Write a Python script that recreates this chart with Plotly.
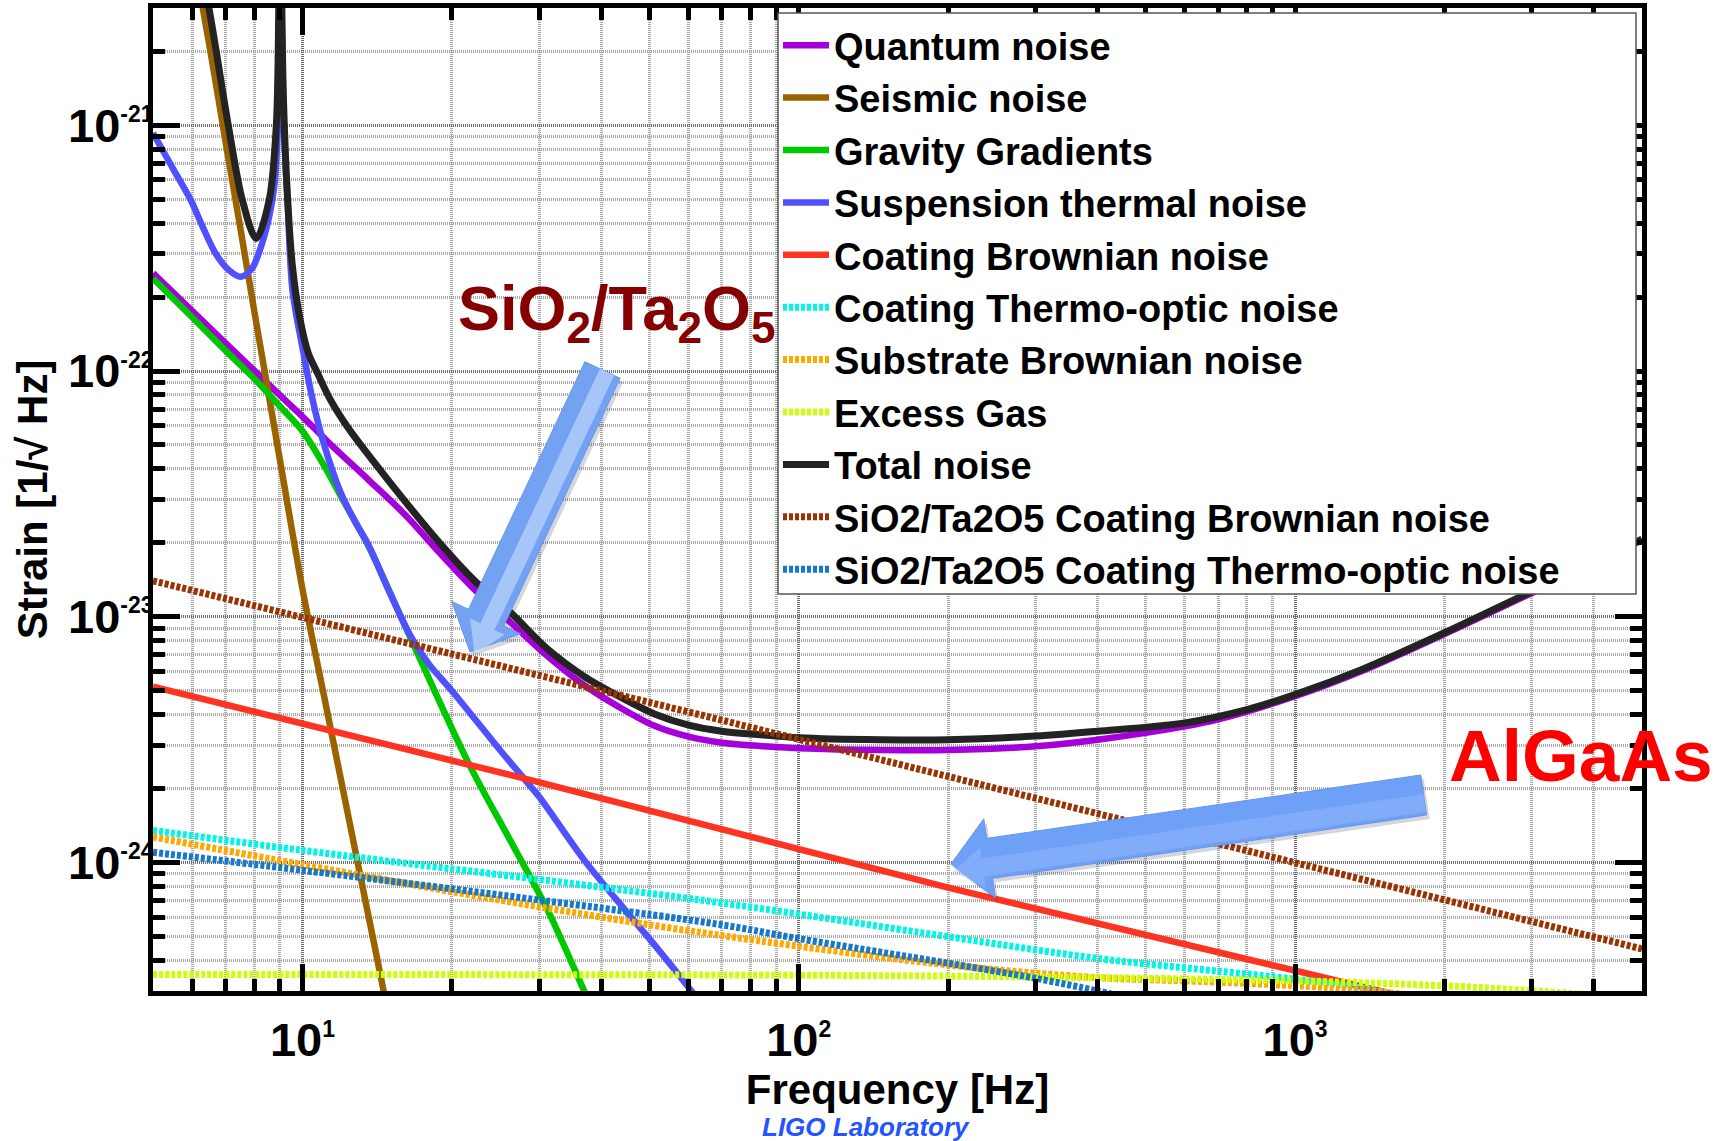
import plotly.graph_objects as go

FONT = "Liberation Sans"

# ---------------------------------------------------------------------------
# Noise budget: frequency [Hz] and strain amplitude spectral density [1/sqrt(Hz)]
# ---------------------------------------------------------------------------
quantum_f = [5, 7, 8.61, 9.79, 11.55, 13.6, 16.1, 19.0, 22.4, 26.4, 31.2, 36.8,
             43.4, 51.2, 60, 70, 85, 100, 146, 200, 300, 400, 600, 700, 1000,
             1360, 2000, 3000, 5000]
quantum_h = [2.5e-22, 1.30e-22, 8.7e-23, 6.8e-23, 4.9e-23, 3.6e-23, 2.6e-23,
             1.8e-23, 1.27e-23, 9.4e-24, 6.9e-24, 5.3e-24, 4.3e-24, 3.6e-24,
             3.25e-24, 3.07e-24, 2.97e-24, 2.92e-24, 2.87e-24, 2.87e-24,
             2.97e-24, 3.16e-24, 3.58e-24, 3.82e-24, 4.75e-24, 6.0e-24, 8.5e-24,
             1.25e-23, 2.05e-23]

seismic_f = [6.0, 6.5, 7.0, 7.5, 8.0, 8.5, 9.0, 10.0, 11.0, 12.0, 13.0, 14.0, 15.0]
seismic_h = [5.2e-21, 2.1e-21, 8.6e-22, 3.8e-22, 1.75e-22, 8.6e-23, 4.4e-23,
             1.3e-23, 5.0e-24, 2.1e-24, 9.4e-25, 4.5e-25, 2.25e-25]

gravity_f = [5, 6, 7, 8, 9, 10, 11, 12, 13.6, 16.6, 21.65, 26.4, 31.2, 36.8, 40]
gravity_h = [2.38e-22, 1.65e-22, 1.21e-22, 9.3e-23, 7.2e-23, 5.7e-23, 4.2e-23,
             3.05e-23, 1.93e-23, 8.0e-24, 2.52e-24, 1.2e-24, 6.4e-25, 3.06e-25,
             2.1e-25]

suspension_f = [5, 5.25, 5.5, 5.96, 6.3, 6.69, 7.1, 7.51, 7.9, 8.16, 8.57, 8.79,
                8.92, 8.98, 9.02, 9.08, 9.18, 9.34, 9.55, 10.03, 10.46, 11.0,
                11.94, 12.75, 13.6, 15.0, 16.6, 18.0, 20, 25, 28.2, 30, 37, 45, 50,
                60, 65]
suspension_h = [9.3e-22, 7.8e-22, 6.6e-22, 4.95e-22, 3.85e-22, 3.0e-22, 2.58e-22,
                2.42e-22, 2.6e-22, 3.0e-22, 4.24e-22, 5.79e-22, 1.0e-21, 3.0e-21,
                3.0e-20, 3.0e-21, 9.5e-22, 4.8e-22, 2.13e-22, 1.21e-22, 7.8e-23,
                5.2e-23, 3.2e-23, 2.45e-23, 1.95e-23, 1.25e-23, 8.2e-24, 6.4e-24,
                5.0e-24, 2.87e-24, 2.15e-24, 1.85e-24, 1.02e-24, 6.3e-25, 4.9e-25,
                3.1e-25, 2.5e-25]

coating_brownian_f = [5, 28.2, 200, 1430, 2000]
coating_brownian_h = [5.19e-24, 2.19e-24, 7.9e-25, 3.05e-25, 2.6e-25]

coating_to_f = [5, 10, 63, 200, 400, 1000, 1400, 2000]
coating_to_h = [1.35e-24, 1.12e-24, 7.05e-25, 4.99e-25, 4.07e-25, 3.35e-25,
                3.05e-25, 2.6e-25]

substrate_f = [5, 10, 26.4, 63, 200, 400, 600, 1155, 2000]
substrate_h = [1.27e-24, 9.8e-25, 6.9e-25, 5.2e-25, 3.83e-25, 3.4e-25, 3.3e-25,
               3.1e-25, 2.8e-25]

gas_f = [5, 100, 300, 1000, 2000, 2690, 5000]
gas_h = [3.5e-25, 3.48e-25, 3.42e-25, 3.3e-25, 3.15e-25, 3.05e-25, 2.8e-25]

total_f = [6.2, 6.47, 7.09, 7.57, 8.07, 8.57, 8.86, 8.96, 9.02, 9.09, 9.16, 9.34,
           9.55, 9.87, 10.28, 10.7, 11.36, 12.34, 14.8, 18.97, 22.4, 26.4, 31.2,
           36.8, 43.4, 51.2, 60, 70, 85, 100, 146, 200, 300, 400, 600, 800, 1000,
           1360, 2000, 3000, 5000]
total_h = [4.5e-21, 3.05e-21, 1.0e-21, 4.95e-22, 3.46e-22, 4.95e-22, 1.0e-21,
           3.0e-21, 3.0e-20, 3.0e-21, 1.26e-21, 4.95e-22, 2.65e-22, 1.66e-22,
           1.18e-22, 9.9e-23, 7.7e-23, 5.9e-23, 3.65e-23, 1.98e-23, 1.38e-23,
           1.03e-23, 7.38e-24, 5.75e-24, 4.75e-24, 4.02e-24, 3.62e-24, 3.42e-24,
           3.3e-24, 3.22e-24, 3.16e-24, 3.16e-24, 3.27e-24, 3.42e-24, 3.70e-24,
           4.19e-24, 4.82e-24, 6.09e-24, 8.61e-24, 1.27e-23, 2.07e-23]

sio2_brownian_f = [5, 63, 5000]
sio2_brownian_h = [1.4e-23, 4.0e-24, 4.45e-25]

sio2_to_f = [5, 10, 67.6, 100, 200, 300, 400, 500]
sio2_to_h = [1.1e-24, 9.3e-25, 5.64e-25, 4.9e-25, 3.89e-25, 3.38e-25, 3.0e-25,
             2.7e-25]

# Axis ticks (exponent drawn as a small superscript)
EXP = '<sup><span style="font-size:23px">{}</span></sup>'
x_tick_vals = [10, 100, 1000]
x_tick_text = ["10" + EXP.format(e) for e in ("1", "2", "3")]
y_tick_vals = [1e-24, 1e-23, 1e-22, 1e-21]
y_tick_text = ["10" + EXP.format(e) for e in ("-24", "-23", "-22", "-21")]
x_minor_vals = [m * d for d in (1, 10, 100, 1000) for m in range(2, 10)
                if 5 < m * d < 5000 and m * d not in (10, 100, 1000)]
y_minor_vals = [m * 10.0 ** e for e in (-25, -24, -23, -22, -21)
                for m in range(2, 10) if 3e-25 < m * 10.0 ** e < 3e-21]

DOT = "4px,2px"
# (legend name, f, h, colour, dash, width, spline)
series = [
    ("Quantum noise", quantum_f, quantum_h, "#A600DA", "solid", 6.5, True),
    ("Seismic noise", seismic_f, seismic_h, "#9A6300", "solid", 6.5, True),
    ("Gravity Gradients", gravity_f, gravity_h, "#00C800", "solid", 6.5, True),
    ("Suspension thermal noise", suspension_f, suspension_h, "#5050FF", "solid", 6.5, True),
    ("Coating Brownian noise", coating_brownian_f, coating_brownian_h, "#FF3322", "solid", 6.5, False),
    ("Coating Thermo-optic noise", coating_to_f, coating_to_h, "#00F5E6", DOT, 7, True),
    ("Substrate Brownian noise", substrate_f, substrate_h, "#FFA800", DOT, 7, True),
    ("Excess Gas", gas_f, gas_h, "#CCFF00", DOT, 7, True),
    ("Total noise", total_f, total_h, "#232323", "solid", 7, True),
    ("SiO2/Ta2O5 Coating Brownian noise", sio2_brownian_f, sio2_brownian_h, "#993300", DOT, 7, False),
    ("SiO2/Ta2O5 Coating Thermo-optic noise", sio2_to_f, sio2_to_h, "#1478CC", DOT, 7, True),
]

fig = go.Figure()
for name, f, h, color, dash, width, smooth in series:
    fig.add_trace(go.Scatter(
        x=f, y=h, mode="lines", name=name,
        line=dict(color=color, width=width, dash=dash,
                  shape="spline" if smooth else "linear", smoothing=0.9),
    ))

# ---------------------------------------------------------------------------
# Page geometry (pixels) used to place the legend frame and call-out arrows
# ---------------------------------------------------------------------------
W, H = 1731, 1141
PLOT_L, PLOT_T, PLOT_W, PLOT_H = 153, 8, 1489, 983


def to_paper(x, y):
    return (x - PLOT_L) / PLOT_W, 1 - (y - PLOT_T) / PLOT_H


def arrow_path(tail, tip, shaft_hw, head_hw, head_len, dx=0.0, dy=0.0, side=0.0):
    tx, ty = tail[0] + dx, tail[1] + dy
    px, py = tip[0] + dx, tip[1] + dy
    length = ((px - tx) ** 2 + (py - ty) ** 2) ** 0.5
    ux, uy = (px - tx) / length, (py - ty) / length
    nx, ny = -uy, ux
    tx, ty = tx + nx * side, ty + ny * side
    px, py = px + nx * side, py + ny * side
    hx, hy = px - ux * head_len, py - uy * head_len
    pts = [
        (tx + nx * shaft_hw, ty + ny * shaft_hw),
        (hx + nx * shaft_hw, hy + ny * shaft_hw),
        (hx + nx * head_hw, hy + ny * head_hw),
        (px, py),
        (hx - nx * head_hw, hy - ny * head_hw),
        (hx - nx * shaft_hw, hy - ny * shaft_hw),
        (tx - nx * shaft_hw, ty - ny * shaft_hw),
    ]
    pp = [to_paper(x, y) for x, y in pts]
    return "M " + " L ".join(f"{x:.5f},{y:.5f}" for x, y in pp) + " Z"


shapes = []

# legend frame
lx0, ly0 = to_paper(778, 13)
lx1, ly1 = to_paper(1636, 594)
shapes.append(dict(type="rect", xref="paper", yref="paper", layer="above",
                   x0=lx0, x1=lx1, y0=ly1, y1=ly0, fillcolor="white",
                   line=dict(color="#555555", width=1.5)))

arrows = [
    # tail centre, tip, shaft half-width, head half-width, head length, highlight
    dict(tail=(602.5, 370), tip=(470, 652), shaft=19.5, head=38, hl=38, shine=True),
    dict(tail=(1423.7, 795), tip=(951, 864), shaft=20.2, head=40, hl=39, shine=False),
]
for a in arrows:
    shapes.append(dict(type="path", xref="paper", yref="paper", layer="above",
                       path=arrow_path(a["tail"], a["tip"], a["shaft"], a["head"], a["hl"], 3, 4),
                       fillcolor="rgba(40,50,90,0.20)", line=dict(width=0)))
    shapes.append(dict(type="path", xref="paper", yref="paper", layer="above",
                       path=arrow_path(a["tail"], a["tip"], a["shaft"], a["head"], a["hl"]),
                       fillcolor="#74A2F3" if a["shine"] else "#6FA0F7",
                       line=dict(color="#6A95E4", width=1)))
    if a["shine"]:
        shapes.append(dict(type="path", xref="paper", yref="paper", layer="above",
                           path=arrow_path(a["tail"], a["tip"], a["shaft"] * 0.4,
                                           a["head"] * 0.5, a["hl"] * 0.8, side=-5),
                           fillcolor="rgba(200,222,255,0.6)", line=dict(width=0)))
    else:
        shapes.append(dict(type="path", xref="paper", yref="paper", layer="above",
                           path=arrow_path(a["tail"], a["tip"], a["shaft"] * 0.45,
                                           a["head"] * 0.5, a["hl"] * 0.8, side=-8),
                           fillcolor="rgba(160,195,255,0.35)", line=dict(width=0)))

annotations = [
    dict(text="SiO<sub>2</sub>/Ta<sub>2</sub>O<sub>5</sub>", xref="paper", yref="paper",
         x=to_paper(456, 0)[0], y=to_paper(0, 312)[1], xanchor="left", yanchor="middle",
         showarrow=False, font=dict(family=FONT, size=63, color="#850000", weight="bold")),
    dict(text="AlGaAs", xref="paper", yref="paper",
         x=to_paper(1447, 0)[0], y=to_paper(0, 755)[1], xanchor="left", yanchor="middle",
         showarrow=False, font=dict(family=FONT, size=73, color="#FF0000", weight="bold")),
    dict(text="LIGO Laboratory", xref="paper", yref="paper",
         x=to_paper(866, 0)[0], y=to_paper(0, 1127)[1], xanchor="center", yanchor="middle",
         showarrow=False, font=dict(family=FONT, size=26, color="#2255FF", weight="bold",
                                    style="italic")),
]

axis_common = dict(
    type="log", showline=True, linewidth=5, linecolor="black", mirror="allticks",
    ticks="inside", ticklen=27, tickwidth=5, tickcolor="black",
    showgrid=True, gridcolor="#6E6E6E", gridwidth=2.5, griddash="1px,1px",
    tickfont=dict(family=FONT, size=47, color="black", weight="bold"),
    zeroline=False, automargin=False,
)
minor_common = dict(tickmode="array", ticks="inside", ticklen=12, tickwidth=5,
                    tickcolor="black", showgrid=True, gridcolor="#A8A8A8",
                    gridwidth=2.5, griddash="1px,1px")

fig.update_layout(
    width=W, height=H, autosize=False,
    margin=dict(l=PLOT_L, r=W - PLOT_L - PLOT_W, t=PLOT_T, b=H - PLOT_T - PLOT_H),
    paper_bgcolor="white", plot_bgcolor="white", template="none",
    font=dict(family=FONT, color="black"),
    xaxis=dict(
        axis_common, range=[0.69897, 3.69897],
        tickmode="array", tickvals=x_tick_vals, ticktext=x_tick_text,
        ticklabelstandoff=4,
        minor=dict(minor_common, tickvals=x_minor_vals),
        title=dict(text="Frequency [Hz]", standoff=2,
                   font=dict(family=FONT, size=42, color="black", weight="bold")),
    ),
    yaxis=dict(
        axis_common, range=[-24.52288, -20.52288],
        tickmode="array", tickvals=y_tick_vals, ticktext=y_tick_text,
        ticklabelstandoff=-15,
        minor=dict(minor_common, tickvals=y_minor_vals),
        title=dict(text="Strain [1/√ Hz]", standoff=9,
                   font=dict(family=FONT, size=42, color="black", weight="bold")),
    ),
    legend=dict(x=to_paper(778, 0)[0], y=to_paper(0, 14)[1], xanchor="left", yanchor="top",
                bgcolor="rgba(0,0,0,0)", borderwidth=0,
                font=dict(family=FONT, size=38, color="black", weight="bold"),
                itemwidth=46, tracegroupgap=0),
    shapes=shapes,
    annotations=annotations,
    showlegend=True,
)

fig.write_html("out.html")
